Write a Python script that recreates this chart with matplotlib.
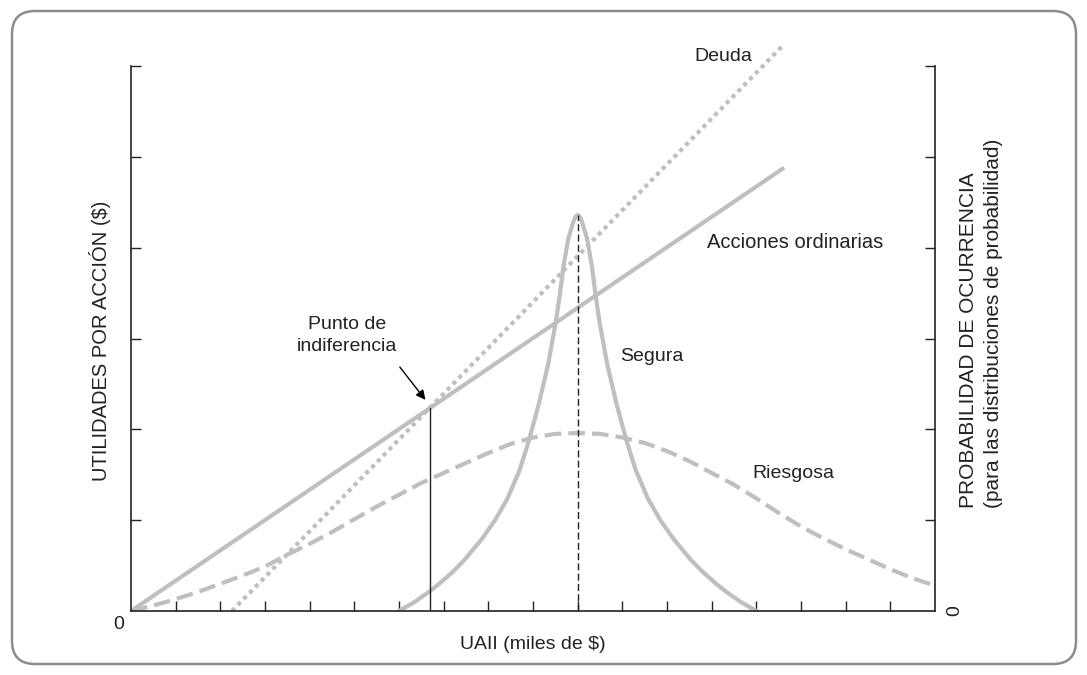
import matplotlib.pyplot as plt
import matplotlib.patches as mpatches

plt.rcParams['font.family'] = ['Liberation Sans', 'DejaVu Sans']

# straight lines (UAII, UPA)
acciones_x = [0.0, 14.62]
acciones_y = [0.0, 4.88]
deuda_x = [2.26, 14.62]
deuda_y = [0.0, 6.24]

# probability curves
segura_x = [6.0, 6.35, 6.67, 6.9, 7.2, 7.46, 7.85, 8.15, 8.43, 8.7, 8.91, 9.12,
            9.34, 9.51, 9.6, 9.68, 9.79, 9.9, 9.95, 10.0, 10.05, 10.1, 10.21,
            10.32, 10.4, 10.49, 10.66, 10.88, 11.09, 11.3, 11.57, 11.85, 12.15,
            12.54, 12.8, 13.1, 13.33, 13.65, 14.0]
segura_y = [0.0, 0.10, 0.21, 0.30, 0.43, 0.56, 0.79, 1.00, 1.24, 1.55, 1.88, 2.26,
            2.72, 3.18, 3.48, 3.79, 4.10, 4.28, 4.34, 4.36, 4.34, 4.28, 4.10,
            3.79, 3.48, 3.18, 2.72, 2.26, 1.88, 1.55, 1.24, 1.00, 0.79,
            0.56, 0.43, 0.30, 0.21, 0.10, 0.0]
riesgosa_x = [0.0, 0.5, 1.0, 1.5, 2.0, 2.5, 3.0, 3.5, 4.0, 4.5, 5.0, 5.5,
              6.0, 6.5, 7.0, 7.5, 8.0, 8.5, 9.0, 9.5, 10.0, 10.5, 11.0, 11.5,
              12.0, 12.5, 13.0, 13.5, 14.0, 14.5, 15.0, 15.5, 16.0, 16.5,
              17.0, 17.5, 18.0]
riesgosa_y = [0.0, 0.06, 0.13, 0.21, 0.30, 0.39, 0.49, 0.62, 0.74, 0.87, 1.01, 1.15,
              1.28, 1.41, 1.52, 1.63, 1.74, 1.84, 1.91, 1.95, 1.96, 1.95, 1.91, 1.85,
              1.76, 1.65, 1.52, 1.39, 1.24, 1.08, 0.93, 0.80, 0.68, 0.57,
              0.46, 0.36, 0.28]

indiferencia_x = 6.69
indiferencia_y = 2.23
media_x = 10.0
media_y = 4.36

gris = '#bfbfbf'
tinta = '#222222'

fig = plt.figure(figsize=(10.87, 6.75), dpi=100)
ax = fig.add_axes([0.1205, 0.0948, 0.7397, 0.8074])

# rounded frame around everything
marco = mpatches.FancyBboxPatch((0.12, 0.11), 10.64, 6.53,
                                boxstyle="round,pad=0,rounding_size=0.23",
                                transform=fig.dpi_scale_trans, fill=False,
                                ec='#8c8c8c', lw=1.8)
fig.patches.append(marco)

ax.plot(acciones_x, acciones_y, color=gris, lw=3, solid_capstyle='butt')
ax.plot(deuda_x, deuda_y, color=gris, lw=3, linestyle=(0, (1, 1)),
        dash_capstyle='butt', clip_on=False)
ax.plot(segura_x, segura_y, color=gris, lw=3, solid_joinstyle='round')
ax.plot(riesgosa_x, riesgosa_y, color=gris, lw=3, linestyle=(0, (4, 1.7)),
        dash_capstyle='butt')

ax.plot([indiferencia_x, indiferencia_x], [0, indiferencia_y], color=tinta, lw=1)
ax.plot([media_x, media_x], [0, media_y], color=tinta, lw=1, linestyle=(0, (5, 2.4)))

ax.set_xlim(0, 18)
ax.set_ylim(0, 6)
ax.set_xticks(range(1, 18))
ax.set_yticks(range(1, 7))
ax.tick_params(direction='in', length=7, width=1, color=tinta,
               labelbottom=False, labelleft=False, right=True)
for s in ['left', 'bottom', 'right']:
    ax.spines[s].set_color(tinta)
    ax.spines[s].set_linewidth(1.2)
ax.spines['top'].set_visible(False)

# labels inside the plot
ax.text(13.26, 6.1, 'Deuda', fontsize=14, ha='center', va='center', color=tinta)
ax.text(12.9, 4.06, 'Acciones ordinarias', fontsize=14.5, ha='left', va='center', color=tinta)
ax.text(10.95, 2.80, 'Segura', fontsize=14, ha='left', va='center', color=tinta)
ax.text(13.9, 1.51, 'Riesgosa', fontsize=14, ha='left', va='center', color=tinta)
ax.text(4.84, 3.03, 'Punto de\nindiferencia', fontsize=14, ha='center', va='center',
        linespacing=1.4, color=tinta)
ax.annotate('', xy=(6.63, 2.30), xytext=(5.98, 2.71),
            arrowprops=dict(arrowstyle='-|>', color='black', lw=1, mutation_scale=14))

# axis texts
ax.text(-0.27, -0.15, '0', fontsize=14, ha='center', va='center', color=tinta, clip_on=False)
ax.text(18.45, 0.0, '0', fontsize=14, ha='center', va='center', rotation=90,
        color=tinta, clip_on=False)
ax.text(9.0, -0.37, 'UAII (miles de $)', fontsize=14, ha='center', va='center',
        color=tinta, clip_on=False)
ax.text(-0.69, 2.98, 'UTILIDADES POR ACCIÓN ($)', fontsize=14.5, ha='center',
        va='center', rotation=90, color=tinta, clip_on=False)
ax.text(18.74, 1.13, 'PROBABILIDAD DE OCURRENCIA', fontsize=15, ha='center',
        va='bottom', rotation=90, color=tinta, clip_on=False)
ax.text(19.3, 1.13, '(para las distribuciones de probabilidad)', fontsize=15,
        ha='center', va='bottom', rotation=90, color=tinta, clip_on=False)

fig.savefig('out.png', dpi=100)
